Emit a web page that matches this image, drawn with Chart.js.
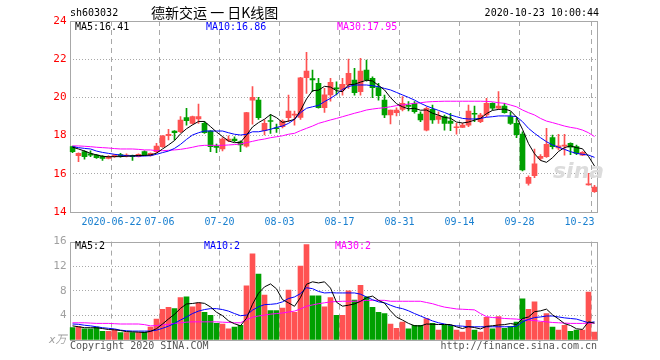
<!DOCTYPE html>
<html>
<head>
<meta charset="utf-8">
<title>德新交运 日K线图</title>
<script src="https://cdn.jsdelivr.net/npm/chart.js@4.4.1/dist/chart.umd.min.js"></script>
<style>
  body { margin: 0; background: #fff; }
  #wrap { position: relative; width: 660px; height: 360px; overflow: hidden; }
  canvas { position: absolute; left: 0; }
  .t { position: absolute; font: 10px "DejaVu Sans Mono", monospace; line-height: 12px; white-space: pre; color: #000; }
</style>
</head>
<body>
<div id="wrap">
  <canvas id="price" width="660" height="232" style="top:0"></canvas>
  <canvas id="volume" width="660" height="128" style="top:232px"></canvas>

  <span class="t" style="left:70px;top:7px">sh603032</span>
  <span class="t" style="left:151px;top:3px;font:14px 'Noto Sans CJK SC';line-height:18px">德新交运 一 日K线图</span>
  <span class="t" style="right:61px;top:7px">2020-10-23 10:00:44</span>
  <span class="t" style="left:75px;top:21px">MA5:16.41</span>
  <span class="t" style="left:206px;top:21px;color:#0000ff">MA10:16.86</span>
  <span class="t" style="left:337px;top:21px;color:#ff00ff">MA30:17.95</span>
  <span class="t" style="left:553px;top:158px;font:italic bold 22px 'DejaVu Sans';color:#dcdcdc">sina</span>

  <span class="t" style="left:75px;top:240px">MA5:2</span>
  <span class="t" style="left:204px;top:240px;color:#0000ff">MA10:2</span>
  <span class="t" style="left:335px;top:240px;color:#ff00ff">MA30:2</span>
  <span class="t" style="left:70px;top:340px;color:#555">Copyright 2020 SINA.COM</span>
  <span class="t" style="right:63px;top:340px;color:#555">http://finance.sina.com.cn</span>
</div>
<script>
// trading days shown (categories)
const dates = [
  '06-11','06-12','06-15','06-16','06-17','06-18','06-19','06-22','06-23','06-24',
  '06-29','06-30','07-01','07-02','07-03','07-06','07-07','07-08','07-09','07-10',
  '07-13','07-14','07-15','07-16','07-17','07-20','07-21','07-22','07-23','07-24',
  '07-27','07-28','07-29','07-30','07-31','08-03','08-04','08-05','08-06','08-07',
  '08-10','08-11','08-12','08-13','08-14','08-17','08-18','08-19','08-20','08-21',
  '08-24','08-25','08-26','08-27','08-28','08-31','09-01','09-02','09-03','09-04',
  '09-07','09-08','09-09','09-10','09-11','09-14','09-15','09-16','09-17','09-18',
  '09-21','09-22','09-23','09-24','09-25','09-28','09-29','09-30','10-12','10-13',
  '10-14','10-15','10-16','10-19','10-20','10-21','10-22','10-23'
];

const open = [
  17.42,16.95,17.16,17.05,16.98,16.91,16.81,16.9,16.98,16.93,
  16.95,16.9,17.16,16.95,17.16,17.42,17.99,18.24,18.2,18.94,
  18.64,18.87,18.64,18.24,17.45,17.3,17.75,17.82,17.68,17.45,
  19.86,19.86,18.26,18.79,18.4,18.47,18.94,19.07,18.95,21.03,
  20.98,20.74,19.46,20.13,20.5,20.39,20.65,20.91,20.3,21.43,
  21.0,20.51,19.86,19.08,19.2,19.37,19.56,19.69,19.13,18.29,
  19.37,18.85,18.99,18.76,18.41,18.43,18.55,19.15,18.73,19.08,
  19.69,19.43,19.55,18.99,18.64,18.08,15.5,15.9,16.8,16.9,
  17.9,17.36,17.45,17.6,17.42,16.98,15.42,15.07
];
const high = [
  17.45,17.1,17.22,17.2,17.02,16.95,16.95,17.0,17.07,17.05,
  16.98,17.04,17.2,17.1,17.6,18.0,18.33,18.26,18.99,19.43,
  19.02,19.65,18.73,18.26,17.56,17.89,17.99,17.94,17.72,19.22,
  20.56,20.0,18.82,19.1,18.6,18.82,20.12,19.29,21.05,22.36,
  21.43,21.0,20.47,21.0,20.82,21.0,22.0,21.52,22.05,21.95,
  21.08,20.74,20.12,19.34,19.46,20.04,19.78,19.78,19.25,19.5,
  19.6,19.25,19.08,19.17,18.64,18.64,19.6,19.55,19.17,19.95,
  19.72,20.3,19.69,19.25,18.9,18.2,15.9,17.3,17.0,18.38,
  18.03,18.07,18.07,17.62,17.5,17.16,16.02,15.4
];
const low = [
  17.1,16.63,16.77,16.9,16.8,16.7,16.78,16.86,16.87,16.88,
  16.7,16.88,16.95,16.92,17.1,17.38,17.77,17.77,18.15,18.55,
  18.6,18.64,18.12,17.16,17.1,17.2,17.68,17.68,17.16,17.4,
  18.6,18.85,18.03,18.12,18.17,18.4,18.73,18.55,18.85,20.21,
  20.3,19.43,19.22,19.8,20.13,20.12,20.47,20.12,20.12,20.85,
  19.99,19.86,18.94,18.61,19.03,19.29,19.29,19.17,18.73,18.24,
  18.64,18.64,18.29,18.26,18.08,18.41,18.47,18.73,18.68,18.99,
  19.34,19.37,19.17,18.59,17.89,16.15,15.4,15.8,16.72,16.86,
  17.3,17.25,16.98,17.0,17.0,16.95,15.4,15.03
];
const close = [
  17.16,17.07,16.9,16.98,16.84,16.81,16.9,16.98,16.95,16.96,
  16.9,17.02,16.98,17.07,17.45,17.99,18.06,18.15,18.81,18.78,
  18.99,18.99,18.15,17.42,17.38,17.82,17.82,17.73,17.51,19.2,
  20.0,18.94,18.64,18.74,18.36,18.76,19.29,19.12,21.03,21.38,
  20.92,19.46,20.13,20.79,20.45,20.68,21.26,20.25,21.38,20.91,
  20.51,20.09,19.08,19.34,19.34,19.69,19.53,19.25,18.82,19.43,
  18.82,19.03,18.64,18.64,18.44,18.55,19.29,19.12,19.08,19.69,
  19.43,19.55,19.2,18.64,18.05,16.2,15.82,16.52,16.92,17.54,
  17.42,17.47,17.5,17.39,17.07,17.12,15.45,15.3
];

const ma5 = [
  17.39,17.3,17.19,17.07,16.99,16.92,16.89,16.9,16.9,16.92,
  16.94,16.96,16.96,16.99,17.08,17.3,17.51,17.74,18.09,18.36,
  18.56,18.74,18.74,18.47,18.19,17.95,17.72,17.63,17.65,18.02,
  18.45,18.68,18.86,19.1,18.94,18.69,18.76,18.85,19.31,19.92,
  20.35,20.38,20.58,20.54,20.35,20.3,20.66,20.69,20.8,20.9,
  20.86,20.63,20.39,19.99,19.67,19.51,19.4,19.43,19.33,19.34,
  19.17,19.07,18.95,18.91,18.71,18.66,18.71,18.81,18.9,19.15,
  19.32,19.37,19.39,19.3,18.97,18.33,17.58,17.05,16.7,16.6,
  16.84,17.17,17.37,17.46,17.37,17.31,16.91,16.41
];
const ma10 = [
  17.42,17.37,17.33,17.3,17.19,17.12,17.07,17.02,16.98,16.95,
  16.93,16.93,16.93,16.95,17.02,17.11,17.19,17.33,17.54,17.8,
  18.03,18.15,18.24,18.24,18.24,18.24,18.15,18.07,18.03,18.07,
  18.2,18.2,18.26,18.33,18.43,18.5,18.64,18.85,19.2,19.43,
  19.51,19.58,19.78,19.95,20.16,20.42,20.56,20.65,20.65,20.65,
  20.61,20.56,20.47,20.39,20.26,20.13,20.0,19.86,19.69,19.55,
  19.43,19.32,19.21,19.08,18.99,18.9,18.87,18.87,18.9,18.96,
  18.99,19.03,19.03,19.03,18.99,18.73,18.38,18.12,17.89,17.68,
  17.51,17.39,17.28,17.16,17.07,17.02,16.98,16.86
];
const ma30 = [
  17.46,17.46,17.44,17.42,17.39,17.37,17.35,17.32,17.3,17.3,
  17.3,17.28,17.25,17.25,17.21,17.21,17.23,17.25,17.28,17.33,
  17.39,17.46,17.49,17.49,17.49,17.49,17.51,17.53,17.56,17.63,
  17.7,17.77,17.82,17.89,17.94,17.99,18.07,18.12,18.26,18.38,
  18.5,18.64,18.73,18.82,18.9,18.99,19.08,19.17,19.25,19.34,
  19.39,19.43,19.46,19.51,19.57,19.6,19.65,19.69,19.72,19.76,
  19.78,19.79,19.8,19.8,19.8,19.8,19.8,19.8,19.8,19.79,
  19.77,19.72,19.69,19.6,19.51,19.34,19.2,19.08,18.9,18.76,
  18.68,18.59,18.5,18.43,18.38,18.29,18.15,17.95
];

// volume, in 万 (10k) lots
const volume = [
  2.0,2.2,1.8,1.8,2.1,1.4,1.4,1.6,1.2,1.2,
  1.2,1.2,1.3,2.1,3.4,5.0,5.3,5.1,6.9,7.0,
  5.4,6.0,4.5,4.0,2.7,2.6,1.8,2.1,2.4,8.8,
  14.0,10.7,7.3,4.8,4.8,5.2,8.1,4.5,12.0,15.5,
  7.2,7.2,5.4,6.9,4.0,4.0,8.0,6.5,8.9,7.0,
  5.3,4.5,4.3,2.6,1.9,2.9,1.8,2.4,2.4,3.5,
  2.7,1.6,2.4,2.4,1.6,1.3,3.2,1.6,1.3,3.7,
  1.8,3.8,1.9,2.2,2.9,6.7,5.0,6.2,2.9,4.3,
  2.1,1.6,2.4,1.4,1.6,1.6,7.8,1.3
];
const volMa5 = [
  2.3,2.15,2.0,2.0,1.98,1.86,1.7,1.66,1.54,1.36,
  1.32,1.28,1.22,1.4,1.84,2.6,3.42,4.18,5.14,5.86,
  5.94,6.08,5.96,5.38,4.52,3.96,3.12,2.64,2.32,3.54,
  5.82,7.6,8.64,9.12,8.32,6.56,6.04,5.48,6.92,9.06,
  9.46,9.28,9.46,8.44,6.14,5.5,5.66,5.88,6.28,6.88,
  7.14,6.44,6.0,4.74,3.72,3.24,2.7,2.32,2.28,2.6,
  2.56,2.52,2.52,2.52,2.14,1.86,2.18,2.02,1.8,2.22,
  2.32,2.44,2.5,2.68,2.52,3.5,3.74,4.6,4.74,5.02,
  4.1,3.42,2.66,2.36,1.82,1.72,2.96,2.74
];
const volMa10 = [
  2.6,2.55,2.4,2.3,2.15,2.0,1.9,1.8,1.6,1.5,
  1.45,1.45,1.45,1.45,1.6,1.9,2.25,2.7,3.25,3.75,
  4.3,4.7,4.95,5.1,5.1,4.95,4.7,4.3,3.95,4.05,
  4.85,5.4,5.75,5.8,5.9,6.2,6.75,7.0,7.55,8.5,
  8.35,7.9,7.65,7.7,7.65,7.65,7.65,7.65,7.45,7.0,
  6.55,6.2,6.05,5.65,5.3,5.1,4.75,4.3,3.9,3.5,
  3.1,2.8,2.6,2.4,2.3,2.25,2.15,2.15,2.15,2.15,
  2.15,2.15,2.15,2.15,2.25,2.95,3.35,3.65,3.75,3.9,
  3.9,3.75,3.6,3.5,3.4,3.1,2.8,2.95
];
const volMa30 = [
  2.8,2.8,2.8,2.75,2.7,2.7,2.7,2.65,2.6,2.6,
  2.6,2.6,2.5,2.3,2.35,2.45,2.55,2.7,2.8,2.9,
  2.95,2.95,2.95,2.95,2.95,2.9,2.85,2.8,2.8,3.3,
  3.7,3.9,4.05,4.2,4.3,4.4,4.55,4.7,5.05,5.5,
  5.7,5.9,6.05,6.2,6.25,6.3,6.3,6.3,6.35,6.45,
  6.45,6.45,6.45,6.3,6.3,6.3,6.3,6.3,6.3,6.1,
  5.9,5.6,5.35,5.2,5.05,5.0,4.95,4.9,4.3,3.8,
  3.65,3.6,3.5,3.45,3.4,3.3,3.25,3.15,3.05,2.95,
  2.85,2.8,2.75,2.7,2.7,2.7,2.75,2.75
];

// dates that get a grid line and a label on the time axis
const tickDates = ['06-22','07-06','07-20','08-03','08-17','08-31','09-14','09-28','10-23'];
const tickText = ['2020-06-22','07-06','07-20','08-03','08-17','08-31','09-14','09-28','10-23'];

const UP = '#ff5252';
const DOWN = '#00a000';
const GRID = '#a8a8a8';
const MONO = "'DejaVu Sans Mono', 'Noto Sans CJK SC', monospace";

const candleColor = close.map((c, i) => (c >= open[i] ? UP : DOWN));
const bodies = open.map((o, i) => [Math.min(o, close[i]), Math.max(o, close[i])]);
const wicks = low.map((l, i) => [l, high[i]]);

Chart.defaults.font.family = MONO;
Chart.defaults.font.size = 10;
Chart.defaults.animation = false;

// grey box round the plot area
const frame = {
  id: 'frame',
  beforeDatasetsDraw(chart) {
    const { ctx, chartArea: a } = chart;
    ctx.save();
    ctx.strokeStyle = GRID;
    ctx.lineWidth = 1;
    ctx.strokeRect(Math.round(a.left) + 0.5, Math.round(a.top) + 0.5,
      Math.round(a.right - a.left) - 1, Math.round(a.bottom - a.top));
    ctx.restore();
  }
};

function timeAxis(showLabels) {
  return {
    offset: true,
    grid: {
      offset: true,
      drawTicks: false,
      color: ctx => (tickDates.includes(dates[ctx.index]) ? GRID : 'rgba(0,0,0,0)')
    },
    border: { display: false, dash: [5, 4] },
    ticks: {
      display: showLabels,
      autoSkip: false,
      maxRotation: 0,
      padding: 4,
      labelOffset: -3,
      color: '#1a80d0',
      callback: (v, i) => {
        const k = tickDates.indexOf(dates[i]);
        if (k < 0) return '';
        // last label sits left of its line
        return k === tickDates.length - 1 ? tickText[k] + '    ' : tickText[k];
      }
    },
    afterFit: s => { s.height = 20; }
  };
}

function maLine(data, color) {
  return { type: 'line', data, borderColor: color, borderWidth: 1, pointRadius: 0, tension: 0, order: 0 };
}

const plugins = { legend: { display: false }, tooltip: { enabled: false } };

new Chart(document.getElementById('price'), {
  type: 'bar',
  data: {
    labels: dates,
    datasets: [
      maLine(ma5, '#000000'),
      maLine(ma10, '#0000ff'),
      maLine(ma30, '#ff00ff'),
      { data: bodies, backgroundColor: candleColor, barThickness: 5, minBarLength: 1, grouped: false, order: 1 },
      { data: wicks, backgroundColor: candleColor, barThickness: 1, grouped: false, order: 2 }
    ]
  },
  options: {
    responsive: false,
    layout: { padding: { top: 21, right: 62.5, left: 0, bottom: 0 } },
    plugins,
    scales: {
      x: timeAxis(true),
      y: {
        min: 14,
        max: 24,
        ticks: { stepSize: 2, color: '#ff0000', font: { size: 11 }, padding: 3 },
        grid: {
          drawTicks: false,
          color: ctx => (ctx.tick && (ctx.tick.value === 14 || ctx.tick.value === 24) ? 'rgba(0,0,0,0)' : GRID)
        },
        border: { display: false, dash: [1, 2] },
        afterFit: s => { s.width = 69.5; }
      }
    }
  },
  plugins: [frame]
});

new Chart(document.getElementById('volume'), {
  type: 'bar',
  data: {
    labels: dates,
    datasets: [
      maLine(volMa5, '#000000'),
      maLine(volMa10, '#0000ff'),
      maLine(volMa30, '#ff00ff'),
      { data: volume, backgroundColor: candleColor, barThickness: 5, grouped: false, order: 1 }
    ]
  },
  options: {
    responsive: false,
    layout: { padding: { top: 9, right: 62.5, left: 0, bottom: 0 } },
    plugins,
    scales: {
      x: timeAxis(false),
      y: {
        min: 0,
        max: 16,
        ticks: {
          stepSize: 4,
          color: '#a0a0a0',
          padding: 3,
          font: ctx => ({ size: 11, style: ctx.tick && ctx.tick.value === 0 ? 'italic' : 'normal' }),
          callback: v => (v === 0 ? 'x万' : v)
        },
        grid: {
          drawTicks: false,
          color: ctx => (ctx.tick && (ctx.tick.value === 0 || ctx.tick.value === 16) ? 'rgba(0,0,0,0)' : GRID)
        },
        border: { display: false, dash: [1, 2] },
        afterFit: s => { s.width = 69.5; }
      }
    }
  },
  plugins: [frame]
});
</script>
</body>
</html>
